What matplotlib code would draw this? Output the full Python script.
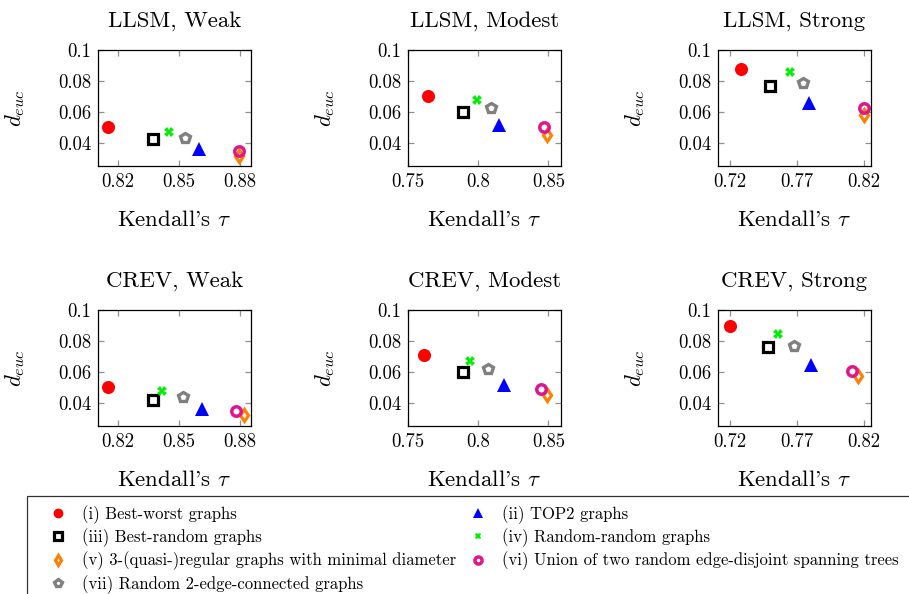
import matplotlib
matplotlib.use('Agg')
import matplotlib.pyplot as plt
from matplotlib.lines import Line2D
from matplotlib.patches import Rectangle

plt.rcParams['font.family'] = 'serif'
plt.rcParams['font.serif'] = ['cmr10']
plt.rcParams['mathtext.fontset'] = 'cm'
plt.rcParams['axes.unicode_minus'] = False

# series order: (i) .. (vii)
series_names = ['(i) Best-worst graphs', '(ii) TOP2 graphs', '(iii) Best-random graphs',
                '(iv) Random-random graphs', '(v) 3-(quasi-)regular graphs with minimal diameter',
                '(vi) Union of two random edge-disjoint spanning trees',
                '(vii) Random 2-edge-connected graphs']

# Kendall's tau / d_euc per panel, one value per series
tau_llsm_weak = [0.815, 0.860, 0.837, 0.845, 0.8794, 0.8795, 0.8528]
d_llsm_weak = [0.0499, 0.0361, 0.0426, 0.0473, 0.0316, 0.0350, 0.0434]
tau_llsm_modest = [0.7643, 0.8148, 0.7893, 0.799, 0.849, 0.8472, 0.809]
d_llsm_modest = [0.0703, 0.0516, 0.0596, 0.0677, 0.0452, 0.0499, 0.0624]
tau_llsm_strong = [0.7282, 0.7787, 0.750, 0.765, 0.820, 0.8195, 0.7745]
d_llsm_strong = [0.0875, 0.0656, 0.0768, 0.0856, 0.0580, 0.0624, 0.0785]
tau_crev_weak = [0.8148, 0.8613, 0.837, 0.8417, 0.882, 0.8779, 0.852]
d_crev_weak = [0.0503, 0.0361, 0.0421, 0.0475, 0.0320, 0.0348, 0.0436]
tau_crev_modest = [0.7612, 0.8184, 0.7889, 0.7941, 0.8493, 0.8446, 0.8067]
d_crev_modest = [0.0710, 0.0512, 0.0597, 0.0673, 0.0449, 0.0492, 0.0619]
tau_crev_strong = [0.720, 0.7805, 0.7487, 0.7558, 0.815, 0.8105, 0.7675]
d_crev_strong = [0.0894, 0.0647, 0.0758, 0.0848, 0.0572, 0.0608, 0.0770]

titles = ['LLSM, Weak', 'LLSM, Modest', 'LLSM, Strong',
          'CREV, Weak', 'CREV, Modest', 'CREV, Strong']
xticks_weak = [0.82, 0.85, 0.88]
xticks_modest = [0.75, 0.8, 0.85]
xticks_strong = [0.72, 0.77, 0.82]
yticks = [0.04, 0.06, 0.08, 0.1]

# marker styles per series
styles = [
    dict(marker='o', ms=9.4, mfc='#ff0000', mec='#ff0000', mew=0),
    dict(marker='^', ms=10, mfc='#0000ff', mec='#0000ff', mew=0),
    dict(marker='s', ms=7.2, mfc='white', mec='black', mew=2.3),
    dict(marker='X', ms=6.5, mfc='#00ee00', mec='#00ee00', mew=0),
    dict(marker='d', ms=6.5, mfc='white', mec='#ff8000', mew=2.3),
    dict(marker='o', ms=6.8, mfc='none', mec='#e0168c', mew=2.5),
    dict(marker='p', ms=7.5, mfc='white', mec='#808080', mew=2.4),
]

W, H = 909, 594
fig = plt.figure(figsize=(W / 100, H / 100), dpi=100)

panels = [
    (tau_llsm_weak, d_llsm_weak, xticks_weak, (0.81, 0.8855)),
    (tau_llsm_modest, d_llsm_modest, xticks_modest, (0.75, 0.859)),
    (tau_llsm_strong, d_llsm_strong, xticks_strong, (0.7112, 0.825)),
    (tau_crev_weak, d_crev_weak, xticks_weak, (0.81, 0.8855)),
    (tau_crev_modest, d_crev_modest, xticks_modest, (0.75, 0.859)),
    (tau_crev_strong, d_crev_strong, xticks_strong, (0.7112, 0.825)),
]
lefts = [98, 408, 718]
tops = [50, 310]
aw, ah = 153, 116

for k, (tau, d, xt, xl) in enumerate(panels):
    r, c = divmod(k, 3)
    ax = fig.add_axes([lefts[c] / W, 1 - (tops[r] + ah) / H, aw / W, ah / H])
    for i in range(7):
        ax.plot(tau[i], d[i], linestyle='none', **styles[i])
    ax.set_xlim(*xl)
    ax.set_ylim(0.025, 0.1)
    ax.set_xticks(xt)
    ax.set_xticklabels([('%g' % v) for v in xt])
    ax.set_yticks(yticks)
    ax.set_yticklabels([('%g' % v) for v in yticks])
    ax.tick_params(direction='in', top=True, right=True, length=4, width=0.9,
                   color='#909090', labelsize=13.5, pad=5)
    for s in ax.spines.values():
        s.set_linewidth(0.9)
    ax.set_title(titles[k], fontsize=16.5, pad=17)
    ax.set_xlabel("Kendall's $\\tau$", fontsize=16.5, labelpad=14)
    ax.set_ylabel('$d_{euc}$', fontsize=16.5, labelpad=22)

# legend: two columns placed by hand
handles = [Line2D([], [], linestyle='none', **styles[i]) for i in range(7)]
leg_kw = dict(loc='upper left', frameon=False, fontsize=12, borderpad=0,
              borderaxespad=0, handlelength=1.5, handletextpad=0.75,
              labelspacing=0.28, markerscale=0.75)
col1 = [0, 2, 4, 6]
col2 = [1, 3, 5]
fig.legend([handles[i] for i in col1], [series_names[i] for i in col1],
           bbox_to_anchor=(45 / W, 1 - 505 / H), **leg_kw)
fig.legend([handles[i] for i in col2], [series_names[i] for i in col2],
           bbox_to_anchor=(465 / W, 1 - 505 / H), **leg_kw)
fig.patches.append(Rectangle((27 / W, -0.05), 1.0, (594 - 496) / H + 0.05,
                             transform=fig.transFigure, fill=False,
                             edgecolor='#333333', linewidth=0.9))

fig.savefig('out.png', dpi=100)
